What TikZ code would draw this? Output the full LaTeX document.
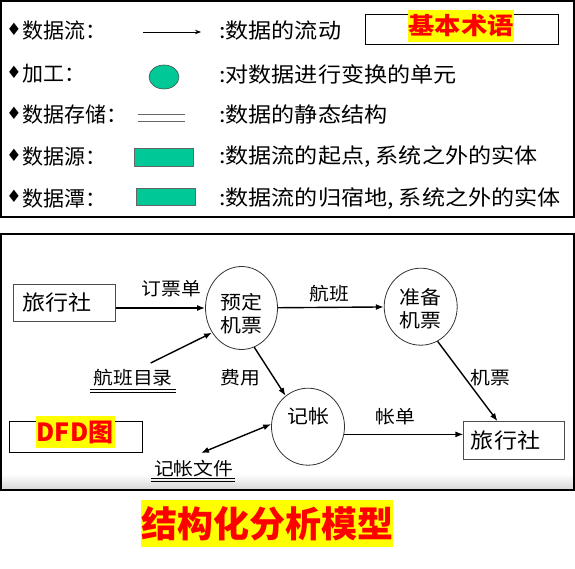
\documentclass[tikz,border=0pt]{standalone}
\usepackage{fontspec}
\setmainfont{Noto Sans CJK SC}
\newfontfamily\cjk[FakeStretch=1.1]{Noto Sans CJK SC}
\newfontfamily\cjkt[FakeStretch=1.12]{Noto Sans CJK SC}
\newfontfamily\dejavu{DejaVu Sans}
\usetikzlibrary{arrows.meta,shapes.geometric}
\definecolor{tealf}{RGB}{0,200,150}
\definecolor{hlred}{RGB}{255,0,0}
\definecolor{hlyel}{RGB}{255,255,0}
\tikzset{
  bul/.style={inner sep=0pt, font=\dejavu\fontsize{17}{17}\selectfont},
  legname/.style={anchor=west, inner sep=0pt, font=\fontsize{21}{21}\selectfont},
  legtext/.style={anchor=west, inner sep=0pt, font=\cjk\fontsize{21}{21}\selectfont},
  lbl/.style={inner sep=0pt, font=\cjk\fontsize{18}{18}\selectfont},
  ent/.style={draw=black!70, line width=1pt, inner ysep=0pt, align=left,
    font=\cjk\fontsize{21}{21}\selectfont},
  proc/.style={ellipse, draw=black!80, line width=0.8pt, inner sep=0pt, align=center,
    font=\cjk\fontsize{19}{23}\selectfont},
  flow/.style={line width=1.4pt, -{Latex[length=8pt,width=6pt]}},
  hl/.style={fill=hlyel, text=hlred, inner sep=0pt},
  frame/.style={draw, line width=1pt, inner sep=0pt},
  store/.style={line width=0.9pt},
}
\begin{document}
\begin{tikzpicture}[x=1pt,y=-1pt]
\useasboundingbox (0,0) rectangle (575,569);
\fill[white] (0,0) rectangle (575,569);

% ---------- top panel ----------
\draw[line width=1.5pt] (1,1) rectangle (574,217);

\node[bul] (b1) at (14,29) {♦};
\node[bul] (b2) at (14,72) {♦};
\node[bul] (b3) at (14,113) {♦};
\node[bul] (b4) at (14,155) {♦};
\node[bul] (b5) at (14,196.5) {♦};

\node[legname] (n1) at (22,31) {数据流：};
\node[legname] (n2) at (22,74) {加工：};
\node[legname] (n3) at (22,115) {数据存储：};
\node[legname] (n4) at (22,157) {数据源：};
\node[legname] (n5) at (22,198.5) {数据潭：};

\node[legtext] (d1) at (219,31) {:数据的流动};
\node[legtext] (d2) at (219,74) {:对数据进行变换的单元};
\node[legtext] (d3) at (219,115) {:数据的静态结构};
\node[legtext] (d4) at (219,157) {:数据流的起点, 系统之外的实体};
\node[legtext] (d5) at (219,198.5) {:数据流的归宿地, 系统之外的实体};

\coordinate (fa) at (143,32);
\coordinate (fb) at (201,32);
\draw[line width=0.8pt, -{Stealth[length=6pt,width=4.5pt]}] (fa) -- (fb);

\node[ellipse, draw=black!70, fill=tealf, line width=0.6pt, minimum width=30pt,
  minimum height=24pt, inner sep=0pt] (pe) at (164,77) {};

\coordinate (s1) at (137.5,114);
\coordinate (s2) at (185,114);
\coordinate (s3) at (137.5,121);
\coordinate (s4) at (185,121);
\draw[black!60, line width=0.8pt] (s1) -- (s2);
\draw[black!60, line width=0.8pt] (s3) -- (s4);

\node[draw=black!60, fill=tealf, line width=0.8pt, minimum width=59pt,
  minimum height=18pt, inner sep=0pt] (rs) at (164,157) {};
\node[draw=black!60, fill=tealf, line width=0.8pt, minimum width=59pt,
  minimum height=17pt, inner sep=0pt] (rk) at (166,196.5) {};

\node[frame, minimum width=193pt, minimum height=30pt] (kbox) at (462,30) {};
\node[hl, minimum width=100pt, minimum height=32pt,
  font=\cjkt\bfseries\fontsize{23.5}{23.5}\selectfont] (kt) at (461,26) {基本术语};

% ---------- bottom panel ----------
\draw[line width=1.5pt] (1,234) rectangle (574,490);
\shade[top color=white, bottom color=black!15] (2.5,474) rectangle (572.5,488.5);

\node[ent, minimum height=37pt, inner xsep=9pt, text width=84pt] (ta) at (64.5,302.5) {旅行社};
\node[ent, minimum height=37.6pt, inner xsep=7pt, text width=86.7pt] (tb) at (514.3,440.5) {旅行社};

\node[proc, minimum width=72pt, minimum height=83pt] (yd) at (241.5,308)
  {\rule{0pt}{27pt}预定\\机票};
\node[proc, minimum width=73pt, minimum height=77pt] (zb) at (420.7,306.7)
  {\rule{0pt}{20pt}准备\\机票};
\node[proc, minimum width=73pt, minimum height=77pt, text depth=21.5pt] (jz) at (308,426.7)
  {记帐};

\node[lbl] (hbml) at (133,378) {航班目录};
\node[lbl] (jzwj) at (193.6,468.5) {记帐文件};
\draw[store] (90,389.3) -- (176,389.3);
\draw[store] (90,392.8) -- (176,392.8);
\draw[store] (151,478.3) -- (235,478.3);
\draw[store] (151,481.7) -- (235,481.7);

\coordinate (hbs) at (150.7,363);
\coordinate (jfs) at (201,453);

\draw[flow] (ta.east |- yd) -- (yd);
\draw[flow] (yd) -- (zb);
\draw[flow] (hbs) -- (yd.220);
\draw[flow] (yd.288) -- (jz.126);
\draw[flow] (zb.296) -- (tb.131);
\draw[flow] (jz.348) -- (jz.348 -| tb.west);
\draw[flow, {Latex[length=8pt,width=6pt]}-{Latex[length=8pt,width=6pt]}] (jfs) -- (jz.176);

\node[lbl] (l1) at (171.6,289) {订票单};
\node[lbl] (l2) at (329,294) {航班};
\node[lbl] (l3) at (240,378) {费用};
\node[lbl] (l4) at (490.6,378) {机票};
\node[lbl] (l5) at (395,417) {帐单};

\node[frame, minimum width=133pt, minimum height=31pt] (dbox) at (75.75,436.5) {};
\node[hl, minimum width=79pt, minimum height=32pt,
  font=\bfseries\fontsize{25}{25}\selectfont] (dt) at (75,432) {DFD图};

% ---------- title ----------
\node[hl, minimum width=252pt, minimum height=47pt,
  font=\bfseries\fontsize{36}{36}\selectfont] (title) at (267,523.5) {结构化分析模型};
\end{tikzpicture}
\end{document}
